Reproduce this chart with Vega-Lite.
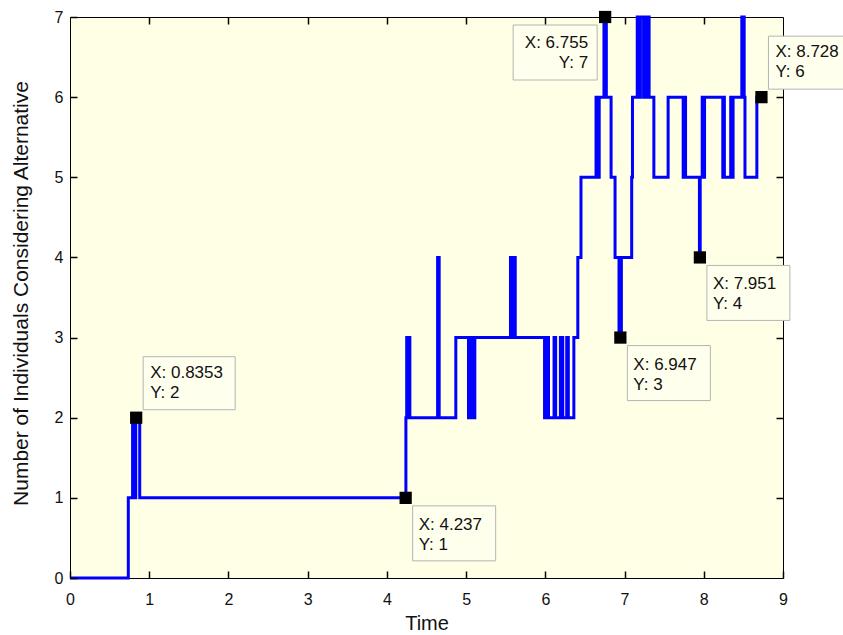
{
  "$schema": "https://vega.github.io/schema/vega-lite/v6.json",
  "width": 713,
  "height": 561,
  "autosize": {"type": "none"},
  "padding": {"left": 70, "top": 17, "right": 60, "bottom": 57},
  "background": "white",
  "config": {
    "font": "Liberation Sans",
    "view": {"fill": "#ffffe6", "stroke": "#000000", "strokeWidth": 1},
    "axis": {"grid": false, "domain": false, "labelColor": "#111111", "titleColor": "#111111", "labelFont": "Liberation Sans", "titleFont": "Liberation Sans", "titleFontWeight": "normal", "labelFlush": false, "labelOverlap": false}
  },
  "datasets": {
    "series": [
      {"t": 0, "v": 0}, {"t": 0.736, "v": 1}, {"t": 0.79, "v": 2}, {"t": 0.81, "v": 1}, {"t": 0.83, "v": 2}, {"t": 0.88, "v": 1},
      {"t": 4.24, "v": 2}, {"t": 4.25, "v": 3}, {"t": 4.26, "v": 2}, {"t": 4.275, "v": 3}, {"t": 4.29, "v": 2},
      {"t": 4.64, "v": 4}, {"t": 4.66, "v": 2}, {"t": 4.87, "v": 3},
      {"t": 5.03, "v": 2}, {"t": 5.06, "v": 3}, {"t": 5.08, "v": 2}, {"t": 5.11, "v": 3},
      {"t": 5.56, "v": 4}, {"t": 5.59, "v": 3}, {"t": 5.6, "v": 4}, {"t": 5.62, "v": 3},
      {"t": 5.99, "v": 2}, {"t": 6.02, "v": 3}, {"t": 6.04, "v": 2}, {"t": 6.11, "v": 3}, {"t": 6.13, "v": 2},
      {"t": 6.19, "v": 3}, {"t": 6.22, "v": 2}, {"t": 6.27, "v": 3}, {"t": 6.29, "v": 2}, {"t": 6.36, "v": 3},
      {"t": 6.41, "v": 4}, {"t": 6.45, "v": 5}, {"t": 6.64, "v": 6}, {"t": 6.66, "v": 5}, {"t": 6.68, "v": 6},
      {"t": 6.74, "v": 7}, {"t": 6.77, "v": 6}, {"t": 6.83, "v": 5}, {"t": 6.88, "v": 4}, {"t": 6.93, "v": 3}, {"t": 6.96, "v": 4},
      {"t": 7.09, "v": 5}, {"t": 7.1, "v": 6}, {"t": 7.16, "v": 7}, {"t": 7.19, "v": 6}, {"t": 7.2, "v": 7}, {"t": 7.24, "v": 6},
      {"t": 7.25, "v": 7}, {"t": 7.28, "v": 6}, {"t": 7.29, "v": 7}, {"t": 7.31, "v": 6}, {"t": 7.37, "v": 5}, {"t": 7.55, "v": 6},
      {"t": 7.74, "v": 5}, {"t": 7.75, "v": 6}, {"t": 7.77, "v": 5}, {"t": 7.945, "v": 4}, {"t": 7.955, "v": 5},
      {"t": 7.98, "v": 6}, {"t": 7.99, "v": 5}, {"t": 8.01, "v": 6}, {"t": 8.24, "v": 5}, {"t": 8.25, "v": 6}, {"t": 8.26, "v": 5},
      {"t": 8.34, "v": 6}, {"t": 8.35, "v": 5}, {"t": 8.37, "v": 6}, {"t": 8.48, "v": 7}, {"t": 8.51, "v": 6}, {"t": 8.52, "v": 5},
      {"t": 8.67, "v": 6}, {"t": 8.728, "v": 6}
    ],
    "tips": [
      {"t": 0.8353, "v": 2, "pos": "ne"},
      {"t": 4.237, "v": 1, "pos": "se"},
      {"t": 6.755, "v": 7, "pos": "sw"},
      {"t": 6.947, "v": 3, "pos": "se"},
      {"t": 7.951, "v": 4, "pos": "se"},
      {"t": 8.728, "v": 6, "pos": "ne"}
    ]
  },
  "layer": [
    {
      "data": {"name": "series"},
      "mark": {"type": "line", "opacity": 0},
      "encoding": {
        "x": {"field": "t", "type": "quantitative", "axis": {"orient": "top", "values": [1,2,3,4,5,6,7,8], "labels": false, "title": null, "ticks": true, "tickSize": 7, "tickWidth": 1.5, "tickColor": "#000000", "tickOpacity": 1, "offset": -7, "zindex": 1}},
        "y": {"field": "v", "type": "quantitative", "axis": {"orient": "right", "values": [1,2,3,4,5,6], "labels": false, "title": null, "ticks": true, "tickSize": 7, "tickWidth": 1.5, "tickColor": "#000000", "tickOpacity": 1, "offset": -7, "zindex": 1}}
      }
    },
    {
      "data": {"name": "series"},
      "mark": {"type": "line", "interpolate": "step-after", "color": "#0000ff", "strokeWidth": 3},
      "encoding": {
        "x": {"field": "t", "type": "quantitative", "scale": {"domain": [0, 9], "nice": false, "zero": false},
          "axis": {"orient": "bottom", "values": [0,1,2,3,4,5,6,7,8,9], "ticks": true, "tickSize": 7, "tickWidth": 1.5, "tickColor": "#000000", "tickOpacity": 1, "offset": -7, "zindex": 1, "labelPadding": 13, "labelFontSize": 16, "title": "Time", "titleFontSize": 20, "titleY": 58, "titleBaseline": "alphabetic"}},
        "y": {"field": "v", "type": "quantitative", "scale": {"domain": [0, 7], "nice": false},
          "axis": {"orient": "left", "values": [0,1,2,3,4,5,6,7], "ticks": true, "tickSize": 7, "tickWidth": 1.5, "tickColor": "#000000", "tickOpacity": 1, "offset": -7, "zindex": 1, "labelPadding": 7, "labelFontSize": 16, "title": "Number of Individuals Considering Alternative", "titleFontSize": 21, "titleX": -50, "titleY": 276, "titleBaseline": "alphabetic", "titleAlign": "center", "titleAngle": 270}}
      }
    },
    {
      "data": {"name": "tips"},
      "mark": {"type": "point", "shape": "square", "size": 150, "filled": true, "color": "#000000", "opacity": 1},
      "encoding": {
        "x": {"field": "t", "type": "quantitative", "axis": null},
        "y": {"field": "v", "type": "quantitative", "axis": null}
      }
    },
    {
      "data": {"name": "tips"},
      "transform": [{"filter": "datum.pos == 'se'"}],
      "mark": {"type": "rect", "fill": "#ffffee", "stroke": "#b4b4b4", "strokeWidth": 1, "xOffset": 7, "x2Offset": 90, "yOffset": 8, "y2Offset": 63},
      "encoding": {
        "x": {"field": "t", "type": "quantitative", "axis": null}, "x2": {"field": "t"},
        "y": {"field": "v", "type": "quantitative", "axis": null}, "y2": {"field": "v"}
      }
    },
    {
      "data": {"name": "tips"},
      "transform": [{"filter": "datum.pos == 'ne'"}],
      "mark": {"type": "rect", "fill": "#ffffee", "stroke": "#b4b4b4", "strokeWidth": 1, "xOffset": 7, "x2Offset": 99, "yOffset": -61, "y2Offset": -8},
      "encoding": {
        "x": {"field": "t", "type": "quantitative", "axis": null}, "x2": {"field": "t"},
        "y": {"field": "v", "type": "quantitative", "axis": null}, "y2": {"field": "v"}
      }
    },
    {
      "data": {"name": "tips"},
      "transform": [{"filter": "datum.pos == 'sw'"}],
      "mark": {"type": "rect", "fill": "#ffffee", "stroke": "#b4b4b4", "strokeWidth": 1, "xOffset": -92, "x2Offset": -8, "yOffset": 8, "y2Offset": 63},
      "encoding": {
        "x": {"field": "t", "type": "quantitative", "axis": null}, "x2": {"field": "t"},
        "y": {"field": "v", "type": "quantitative", "axis": null}, "y2": {"field": "v"}
      }
    },
    {
      "data": {"name": "tips"},
      "transform": [{"filter": "datum.pos == 'se'"}, {"calculate": "'X: ' + datum.t + '\\n' + 'Y: ' + datum.v", "as": "label"}],
      "mark": {"type": "text", "align": "left", "baseline": "alphabetic", "dx": 13, "dy": 32, "fontSize": 17, "lineHeight": 20, "lineBreak": "\n", "color": "#111111"},
      "encoding": {
        "x": {"field": "t", "type": "quantitative", "axis": null},
        "y": {"field": "v", "type": "quantitative", "axis": null},
        "text": {"field": "label", "type": "nominal"}
      }
    },
    {
      "data": {"name": "tips"},
      "transform": [{"filter": "datum.pos == 'ne'"}, {"calculate": "'X: ' + datum.t + '\\n' + 'Y: ' + datum.v", "as": "label"}],
      "mark": {"type": "text", "align": "left", "baseline": "alphabetic", "dx": 14, "dy": -40, "fontSize": 17, "lineHeight": 20, "lineBreak": "\n", "color": "#111111"},
      "encoding": {
        "x": {"field": "t", "type": "quantitative", "axis": null},
        "y": {"field": "v", "type": "quantitative", "axis": null},
        "text": {"field": "label", "type": "nominal"}
      }
    },
    {
      "data": {"name": "tips"},
      "transform": [{"filter": "datum.pos == 'sw'"}, {"calculate": "'X: ' + datum.t + '\\n' + 'Y: ' + datum.v", "as": "label"}],
      "mark": {"type": "text", "align": "right", "baseline": "alphabetic", "dx": -17, "dy": 31, "fontSize": 17, "lineHeight": 20, "lineBreak": "\n", "color": "#111111"},
      "encoding": {
        "x": {"field": "t", "type": "quantitative", "axis": null},
        "y": {"field": "v", "type": "quantitative", "axis": null},
        "text": {"field": "label", "type": "nominal"}
      }
    }
  ],
  "resolve": {"axis": {"x": "independent", "y": "independent"}}
}
